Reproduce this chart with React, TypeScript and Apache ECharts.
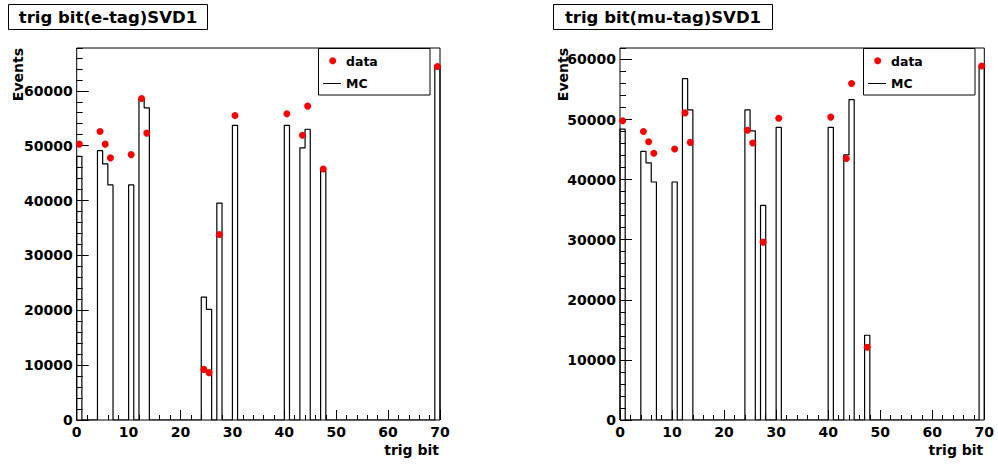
import React, { useEffect, useRef } from "react";
import * as echarts from "echarts";

// Non-empty bins of "trig bit" (bin i spans [i, i+1))
const bins = [0, 4, 5, 6, 10, 12, 13, 24, 25, 27, 30, 40, 43, 44, 47, 69];

// e-tag panel
const mcETag = [48070, 49080, 46670, 42850, 42850, 58610, 56900, 22380, 20170, 39540, 53690, 53690, 49580, 52990, 45460, 64630];
const dataETag = [50280, 52590, 50280, 47770, 48370, 58610, 52290, 9230, 8630, 33820, 55500, 55800, 51890, 57210, 45760, 64430];

// mu-tag panel
const mcMuTag = [48400, 44700, 42800, 39600, 39600, 56800, 51600, 51600, 48100, 35700, 48700, 48700, 44100, 53300, 14100, 58900];
const dataMuTag = [49800, 48000, 46300, 44400, 45100, 51100, 46200, 48200, 46100, 29600, 50200, 50400, 43500, 56000, 12100, 58900];

const titles = ["trig bit(e-tag)SVD1", "trig bit(mu-tag)SVD1"];
const yMaxes = [67800, 61900];
const nBins = 70;

const FONT = '"DejaVu Sans", sans-serif';

function histLine(values: number[]) {
  const full = new Array(nBins).fill(0);
  bins.forEach((b, i) => (full[b] = values[i]));
  const pts: number[][] = [[0, 0]];
  full.forEach((v, i) => {
    pts.push([i, v]);
    pts.push([i + 1, v]);
  });
  pts.push([nBins, 0]);
  return pts;
}

function dots(values: number[]) {
  return bins.map((b, i) => [b + 0.5, values[i]]);
}

export default function App() {
  const ref = useRef<HTMLDivElement>(null);
  useEffect(() => {
    if (!ref.current) return;
    const chart = echarts.init(ref.current, null, { renderer: "svg" });

    const grids = [
      { left: 76.7, top: 48, width: 363.3, height: 372 },
      { left: 620, top: 48, width: 364.3, height: 372 },
    ];

    const labelStyle = { color: "#000", fontFamily: FONT, fontWeight: "bold" as const, fontSize: 14 };

    const xAxes = grids.map((_, i) => ({
      type: "value",
      gridIndex: i,
      min: 0,
      max: 70,
      interval: 10,
      axisLine: { show: false },
      axisTick: { show: true, inside: true, length: 10, lineStyle: { color: "#000", width: 1 } },
      minorTick: { show: true, splitNumber: 5, length: 5, lineStyle: { color: "#000", width: 1 } },
      splitLine: { show: false },
      axisLabel: { ...labelStyle, margin: 5 },
    }));

    const yAxes: any[] = [];
    grids.forEach((_, i) => {
      // major ticks + labels
      yAxes.push({
        type: "value",
        gridIndex: i,
        position: "left",
        min: 0,
        max: yMaxes[i],
        interval: 10000,
        axisLine: { show: false },
        axisTick: { show: true, inside: true, length: 12, lineStyle: { color: "#000", width: 1 } },
        splitLine: { show: false },
        axisLabel: {
          ...labelStyle,
          margin: 4,
          showMaxLabel: false,
          formatter: (v: number) => (v % 10000 === 0 ? String(v) : ""),
        },
      });
      // minor ticks
      yAxes.push({
        type: "value",
        gridIndex: i,
        position: "left",
        min: 0,
        max: yMaxes[i],
        interval: 2000,
        axisLine: { show: false },
        axisTick: { show: true, inside: true, length: 6, lineStyle: { color: "#000", width: 1 } },
        splitLine: { show: false },
        axisLabel: { show: false },
      });
    });

    const mcSets = [mcETag, mcMuTag];
    const dataSets = [dataETag, dataMuTag];
    const series: any[] = [];
    grids.forEach((_, i) => {
      series.push({
        type: "line",
        xAxisIndex: i,
        yAxisIndex: i * 2,
        data: histLine(mcSets[i]),
        showSymbol: false,
        symbol: "none",
        lineStyle: { color: "#000", width: 1.2 },
        z: 2,
      });
      series.push({
        type: "scatter",
        xAxisIndex: i,
        yAxisIndex: i * 2,
        data: dots(dataSets[i]),
        symbol: "circle",
        symbolSize: 7,
        itemStyle: { color: "#ff0000", opacity: 1 },
        z: 3,
      });
    });

    const txt = (text: string, x: number, y: number, size: number, align: string, extra: any = {}) => ({
      type: "text",
      x,
      y,
      ...extra,
      style: {
        text,
        fill: "#000",
        font: `bold ${size}px ${FONT}`,
        textAlign: align,
        align,
        textVerticalAlign: "middle",
        verticalAlign: "middle",
      },
      z: 100,
    });

    const graphic: any[] = [];
    const titleBoxes = [
      { x: 8.5, w: 199 },
      { x: 553.5, w: 219 },
    ];
    const legendBoxes = [318.5, 863.5];
    const eventsX = [17.5, 562.5];
    grids.forEach((g, i) => {
      const tb = titleBoxes[i];
      graphic.push({
        type: "rect",
        shape: { x: tb.x, y: 4.5, width: tb.w, height: 25 },
        style: { fill: "#fff", stroke: "#000", lineWidth: 1 },
        z: 99,
      });
      graphic.push(txt(titles[i], tb.x + tb.w / 2, 17.5, 16.5, "center"));
      // axis titles
      graphic.push(txt("trig bit", g.left + g.width - 1, 450, 14, "right"));
      graphic.push(txt("Events", eventsX[i], 48, 14, "right", { rotation: Math.PI / 2 }));
      // legend
      const lx = legendBoxes[i];
      graphic.push({
        type: "rect",
        shape: { x: lx, y: 48.5, width: 111.5, height: 46.5 },
        style: { fill: "#fff", stroke: "#000", lineWidth: 1 },
        z: 99,
      });
      graphic.push({
        type: "circle",
        shape: { cx: lx + 14.2, cy: 60.7, r: 3.5 },
        style: { fill: "#ff0000" },
        z: 100,
      });
      graphic.push(txt("data", lx + 27.5, 61, 12.5, "left"));
      graphic.push({
        type: "line",
        shape: { x1: lx + 4.5, y1: 83.5, x2: lx + 22.5, y2: 83.5 },
        style: { stroke: "#000", lineWidth: 1 },
        z: 100,
      });
      graphic.push(txt("MC", lx + 27.5, 83.5, 12.5, "left"));
    });

    chart.setOption({
      animation: false,
      backgroundColor: "#fff",
      grid: grids.map((g) => ({ ...g, show: true, borderColor: "#000", borderWidth: 1, backgroundColor: "transparent", containLabel: false })),
      xAxis: xAxes,
      yAxis: yAxes,
      series,
      graphic,
    });

    return () => chart.dispose();
  }, []);

  return <div ref={ref} style={{ position: "absolute", left: 0, top: 0, width: 998, height: 465 }} />;
}
